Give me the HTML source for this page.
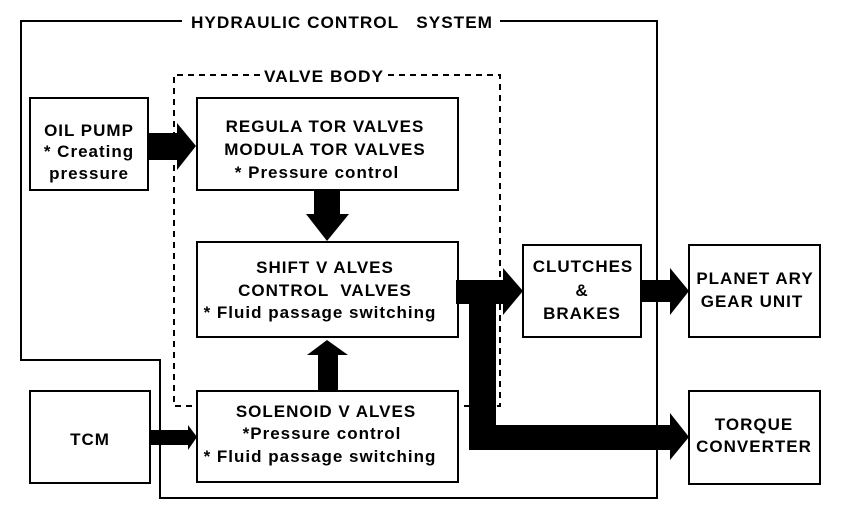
<!DOCTYPE html>
<html><head><style>
body{margin:0;background:#fff;}
svg text{font-family:"Liberation Sans",sans-serif;font-weight:bold;font-size:17px;letter-spacing:1px;fill:#000;text-anchor:middle;}
</style></head><body>
<svg width="864" height="524" xmlns="http://www.w3.org/2000/svg">
<g fill="none" stroke="#000" stroke-width="2">
<polyline points="182,21 21,21 21,360 160,360 160,498 657,498 657,21 500,21"/>
<polyline points="260,75 174,75 174,406 197,406" stroke-dasharray="6,5"/>
<polyline points="388,75 500,75 500,406 458,406" stroke-dasharray="6,5"/>
<rect x="30" y="98" width="118" height="92"/>
<rect x="197" y="98" width="261" height="92"/>
<rect x="197" y="242" width="261" height="95"/>
<rect x="197" y="391" width="261" height="91"/>
<rect x="30" y="391" width="120" height="92"/>
<rect x="523" y="245" width="118" height="92"/>
<rect x="689" y="245" width="131" height="92"/>
<rect x="689" y="391" width="131" height="93"/>
</g>
<g fill="#000">
<polygon points="148,133 177,133 177,123 196,146 177,170 177,160 148,160"/>
<polygon points="314,190 340,190 340,214 349,214 327,241 306,214 314,214"/>
<polygon points="318,391 338,391 338,355 348,355 327,340 307,355 318,355"/>
<polygon points="150,430 188,430 188,425 197,437 188,450 188,445 150,445"/>
<polygon points="456,280 503,280 503,268 523,291 503,315 503,304 496,304 496,425 670,425 670,413 689,437 670,460 670,450 469,450 469,304 456,304"/>
<polygon points="641,280 670,280 670,268 689,291 670,315 670,302 641,302"/>
</g>
<text x="342" y="28" xml:space="preserve" textLength="302" lengthAdjust="spacingAndGlyphs">HYDRAULIC CONTROL   SYSTEM</text>
<text x="324" y="82" textLength="120" lengthAdjust="spacingAndGlyphs">VALVE BODY</text>
<text x="89" y="136">OIL PUMP</text>
<text x="89" y="157">* Creating</text>
<text x="89" y="179">pressure</text>
<text x="325" y="132">REGULA TOR VALVES</text>
<text x="325" y="155">MODULA TOR VALVES</text>
<text x="317" y="178">* Pressure control</text>
<text x="325" y="273">SHIFT V ALVES</text>
<text x="325" y="296" xml:space="preserve">CONTROL  VALVES</text>
<text x="320" y="318">* Fluid passage switching</text>
<text x="326" y="417">SOLENOID V ALVES</text>
<text x="322" y="439">*Pressure control</text>
<text x="320" y="462">* Fluid passage switching</text>
<text x="90" y="445">TCM</text>
<text x="583" y="272">CLUTCHES</text>
<text x="582" y="296">&amp;</text>
<text x="582" y="319">BRAKES</text>
<text x="755" y="284">PLANET ARY</text>
<text x="752" y="307">GEAR UNIT</text>
<text x="754" y="430">TORQUE</text>
<text x="754" y="452">CONVERTER</text>
</svg>
</body></html>
